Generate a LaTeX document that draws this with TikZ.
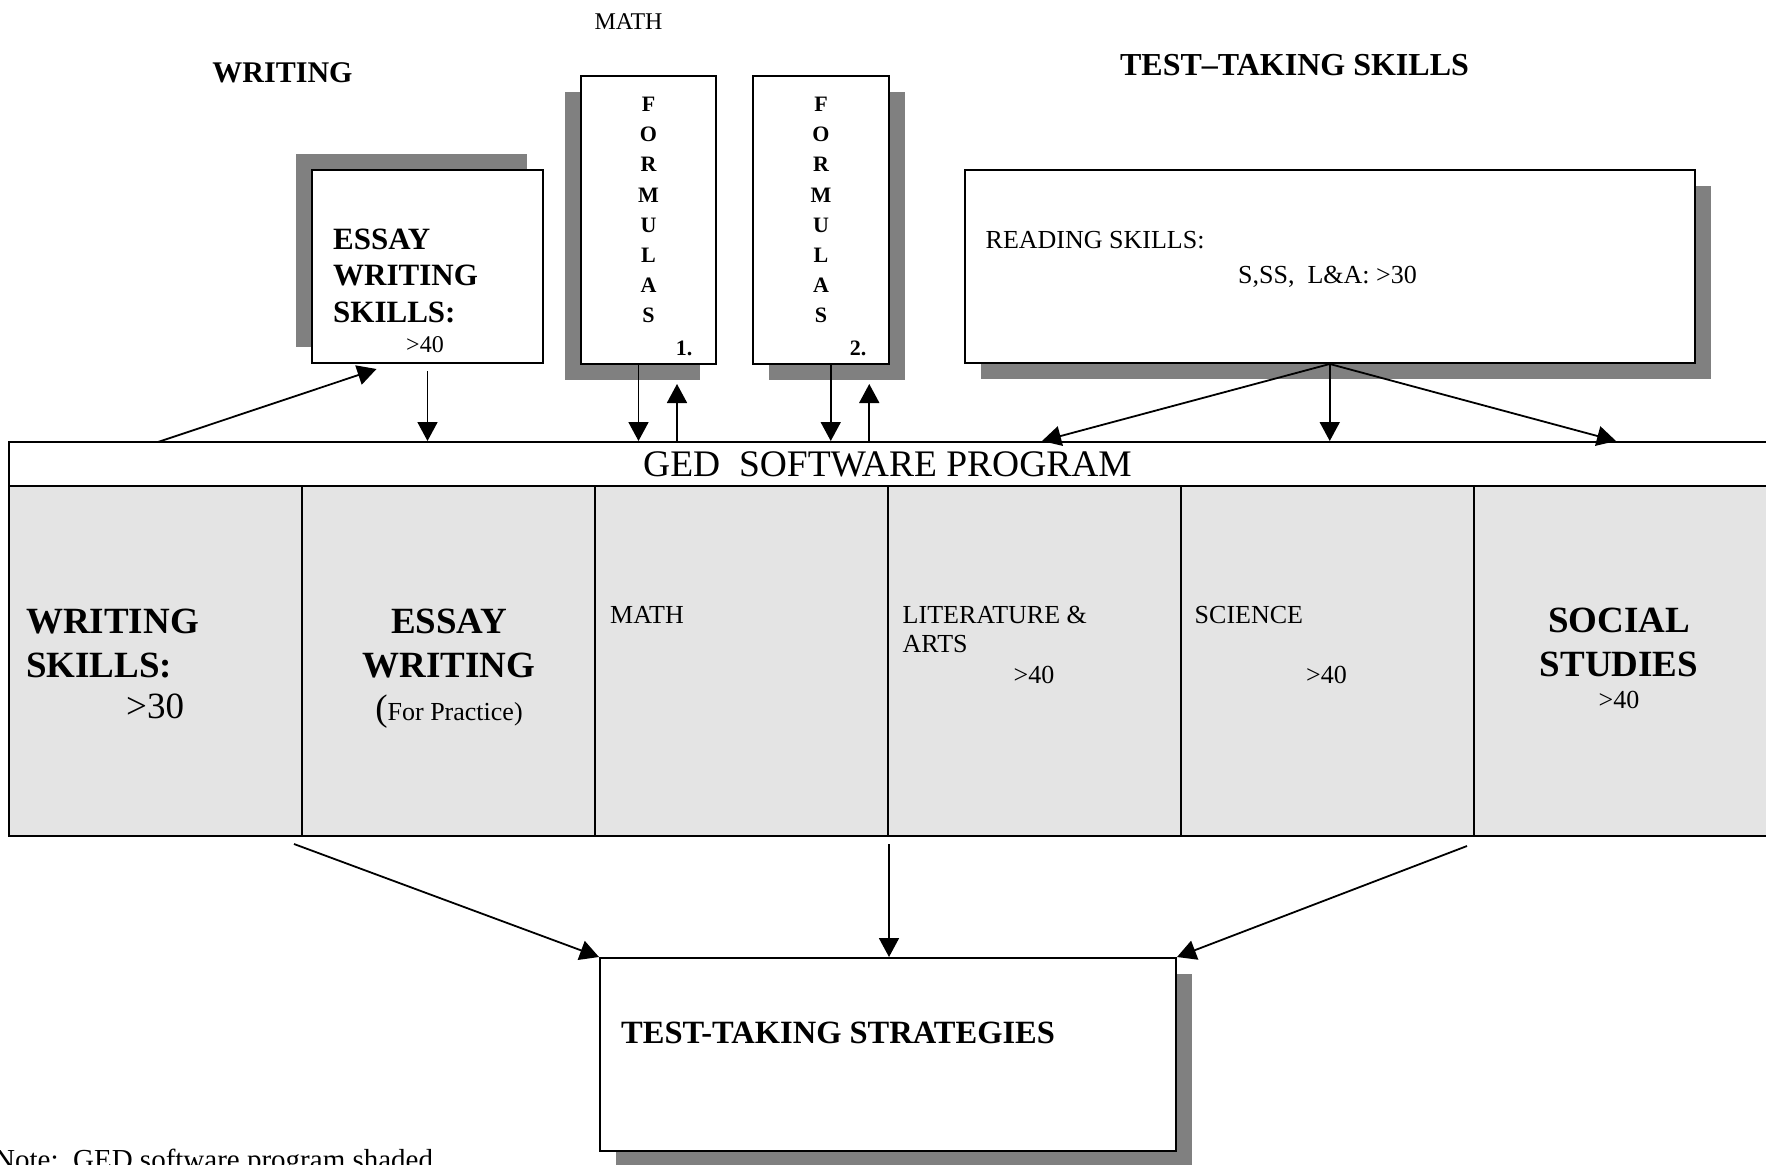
\documentclass[tikz,border=0pt]{standalone}
\usepackage{fontspec}
\setmainfont{Liberation Serif}
\usetikzlibrary{arrows.meta,shadows}
\definecolor{shadegray}{HTML}{808080}
\definecolor{cellgray}{HTML}{E4E4E4}

\begin{document}
\begin{tikzpicture}[
    x=1pt, y=-1pt,
    box/.style={draw, line width=2pt, fill=white, inner sep=0pt},
    cell/.style={draw, line width=2pt, fill=cellgray, inner sep=0pt, minimum width=293pt, minimum height=350pt},
    lbl/.style={inner sep=0pt, align=left, font=\fontsize{26}{29}\selectfont},
    big/.style={inner sep=0pt, align=left, font=\fontsize{37}{44}\selectfont\bfseries},
    head/.style={inner sep=0pt, anchor=base, font=\fontsize{30}{34}\selectfont\bfseries},
    letters/.style={inner sep=0pt, align=center, anchor=base, font=\fontsize{22}{30.1}\selectfont\bfseries},
    link/.style={-{Triangle[length=19pt,width=20pt]}, line width=1.8pt}
]
\useasboundingbox (0,0) rectangle (1766,1164);
\clip (0,0) rectangle (1766,1164);

% headings
\node[lbl, anchor=base, font=\fontsize{24}{28}\selectfont] (mathhead) at (628.5,30) {MATH};
\node[head] (writehead) at (282.5,82) {WRITING};
\node[head, font=\fontsize{32}{34}\selectfont\bfseries] (testhead) at (1294.5,75) {TEST--TAKING SKILLS};

% boxes above the program
\node[box, minimum width=231pt, minimum height=193pt,
      general shadow={fill=shadegray, shadow xshift=-16pt, shadow yshift=16pt}] (essay) at (427.5,266.5) {};
\node[box, minimum width=135pt, minimum height=288pt,
      general shadow={fill=shadegray, shadow xshift=-16pt, shadow yshift=-16pt}] (form1) at (648.5,220) {};
\node[box, minimum width=135.5pt, minimum height=288pt,
      general shadow={fill=shadegray, shadow xshift=16pt, shadow yshift=-16pt}] (form2) at (820.75,220) {};
\node[box, minimum width=729.5pt, minimum height=193pt,
      general shadow={fill=shadegray, shadow xshift=16pt, shadow yshift=-16pt}] (reading) at (1329.75,266.5) {};

\node[big, font=\fontsize{31}{36.5}\selectfont\bfseries, anchor=base west] (essaytxt) at (333,322) {ESSAY\\WRITING\\SKILLS:};
\node[lbl, anchor=base, font=\fontsize{24}{28}\selectfont] (essaynum) at (425,352) {>40};
\node[letters] (f1txt) at (648.5,322.4) {F\\O\\R\\M\\U\\L\\A\\S};
\node[letters] (f1num) at (684,355) {1.};
\node[letters] (f2txt) at (821,322.4) {F\\O\\R\\M\\U\\L\\A\\S};
\node[letters] (f2num) at (858,355) {2.};
\node[lbl, anchor=base west] (readtxt) at (985.5,248) {READING SKILLS:};
\node[lbl, anchor=base west] (readnum) at (1238,283) {S,SS,\ \ L\&A: >30};

% the program
\node[box, minimum width=1758pt, minimum height=44pt] (ged) at (888,464) {};
\node[lbl, anchor=base, font=\fontsize{37.5}{40}\selectfont] (gedtxt) at (887.5,476.7) {GED\ \ SOFTWARE PROGRAM};
\foreach \i in {0,...,5}
  \node[cell] (c\i) at ({155.5+293*\i},661) {};

\node[big, anchor=base west] (c0txt) at (26,677) {WRITING\\SKILLS:};
\node[big, anchor=base west, font=\fontsize{37}{44}\selectfont] (c0num) at (126,718) {>30};
\node[big, align=center, anchor=base] (c1txt) at (449,677) {ESSAY\\WRITING};
\node[lbl, anchor=base] (c1note) at (449,720) {{\fontsize{37}{44}\selectfont(}For Practice)};
\node[lbl, anchor=base west] (c2txt) at (610,623) {MATH};
\node[lbl, anchor=base west] (c3txt) at (902.5,652) {LITERATURE \&\\ARTS};
\node[lbl, anchor=base] (c3num) at (1034,683) {>40};
\node[lbl, anchor=base west] (c4txt) at (1194.5,623) {SCIENCE};
\node[lbl, anchor=base] (c4num) at (1326.5,683) {>40};
\node[big, align=center, anchor=base] (c5txt) at (1619,676) {SOCIAL\\STUDIES};
\node[lbl, anchor=base] (c5num) at (1619,708) {>40};

% below the program
\node[box, minimum width=576pt, minimum height=193pt,
      general shadow={fill=shadegray, shadow xshift=16pt, shadow yshift=-16pt}] (tts) at (888,1054.5) {};
\node[big, font=\fontsize{32.5}{36}\selectfont\bfseries, anchor=base west] (ttstxt) at (621,1043) {TEST-TAKING STRATEGIES};
\node[lbl, anchor=base west, font=\fontsize{29}{32}\selectfont] (note) at (-6,1169) {Note:\ \ GED software program shaded};

% connectors
\coordinate (wfoot) at (158,442);
\coordinate (rdl) at (1042,441);
\coordinate (rdr) at (1616,441);
\draw[link] (wfoot) -- ([xshift=-51pt,yshift=-5pt]essay.south);
\draw[link] ([yshift=-7pt]essay.south) -- (essay.south |- ged.north);
\draw[link] ([xshift=-10pt]form1.south) -- ([xshift=-10pt]form1.south |- ged.north);
\draw[link] ([xshift=28.5pt]form1.south |- ged.north) -- ([xshift=28.5pt,yshift=-19pt]form1.south);
\draw[link] ([xshift=10pt]form2.south) -- ([xshift=10pt]form2.south |- ged.north);
\draw[link] ([xshift=48.5pt]form2.south |- ged.north) -- ([xshift=48.5pt,yshift=-19pt]form2.south);
\draw[link] (reading.south) -- (rdl);
\draw[link] (reading.south) -- (reading.south |- ged.north);
\draw[link] (reading.south) -- (rdr);
\draw[link] ([xshift=-9pt,yshift=-7pt]c0.south east) -- (tts.north west);
\draw[link] ([yshift=-7pt]c2.south east) -- (c2.south east |- tts.north);
\draw[link] ([xshift=-8pt,yshift=-9pt]c4.south east) -- (tts.north east);
\end{tikzpicture}
\end{document}
